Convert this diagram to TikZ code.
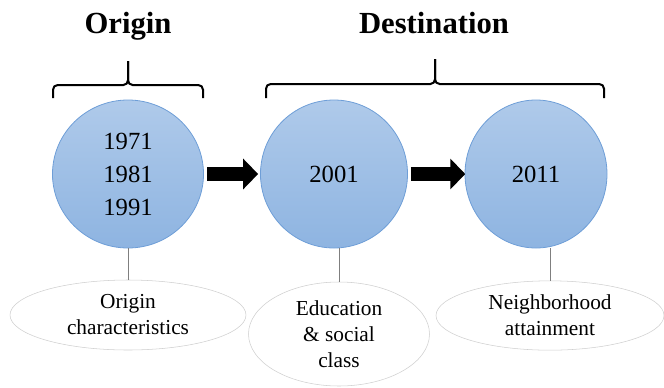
\documentclass[tikz,border=0pt]{standalone}
\usepackage{fontspec}
\setmainfont{Liberation Serif}
\usetikzlibrary{shapes.geometric,arrows.meta}
\definecolor{discTop}{HTML}{AFCAEA}
\definecolor{discBottom}{HTML}{8EB4E1}
\definecolor{discBorder}{HTML}{6E9ED7}
\definecolor{noteBorder}{HTML}{CFCFCF}
\definecolor{stemGray}{HTML}{7F7F7F}
\begin{document}
\begin{tikzpicture}[x=0.75pt,y=0.75pt,yscale=-1,xscale=1,
  disc/.style={ellipse, draw=discBorder, line width=0.6pt, top color=discTop, bottom color=discBottom,
    minimum height=111pt, inner sep=0pt, align=center, font=\fontsize{18.5}{24.75}\selectfont},
  note/.style={ellipse, draw=noteBorder, line width=0.4pt, fill=white, inner sep=0pt,
    align=center, font=\fontsize{16}{19.5}\selectfont},
  fatarrow/.style={line width=11pt, -{Triangle[length=11.25pt,width=22.5pt]}},
  stem/.style={draw=stemGray, line width=0.75pt},
  brace/.style={line width=1.5pt, rounded corners=3.5pt},
  heading/.style={font=\fontsize{23}{27}\selectfont\bfseries, inner sep=0pt}]
\useasboundingbox (0,0) rectangle (664,387);

% Headings
\node[heading, anchor=base] (origin) at (128,33) {Origin};
\node[heading, anchor=base] (dest) at (434,33) {Destination};

% Braces
\draw[brace] (53,98) -- (53,85) -- (128,85) -- (128,61);
\draw[brace] (203,98) -- (203,85) -- (128,85) -- (128,61);
\draw[brace] (266,98) -- (266,84) -- (435,84) -- (435,59);
\draw[brace] (604,98) -- (604,84) -- (435,84) -- (435,59);

% Years
\node[disc, minimum width=113.25pt] (c1) at (128,174) {1971\\1981\\1991};
\node[disc, minimum width=110.25pt] (c2) at (334,174) {2001};
\node[disc, minimum width=106.5pt] (c3) at (536,174) {2011};

% Arrows
\draw[fatarrow, shorten <=2.6pt, shorten >=1.5pt] (c1) -- (c2);
\draw[fatarrow, line width=10pt, shorten <=2.2pt, shorten >=-0.5pt] (c2) -- (c3);

% Notes
\node[note, minimum width=177pt, minimum height=52.5pt] (e1) at (128,315) {Origin\\characteristics};
\node[note, minimum width=135.75pt, minimum height=78pt] (e2) at (339,334) {Education\\\& social\\class};
\node[note, minimum width=171pt, minimum height=52pt] (e3) at (550,315.5) {Neighborhood\\attainment};

% Stems
\draw[stem] (e1.north) -- (c1.south);
\draw[stem] (e2.north) -- (e2.north |- c2.south);
\draw[stem] (e3.north) -- (e3.north |- c3.south);

\end{tikzpicture}
\end{document}
